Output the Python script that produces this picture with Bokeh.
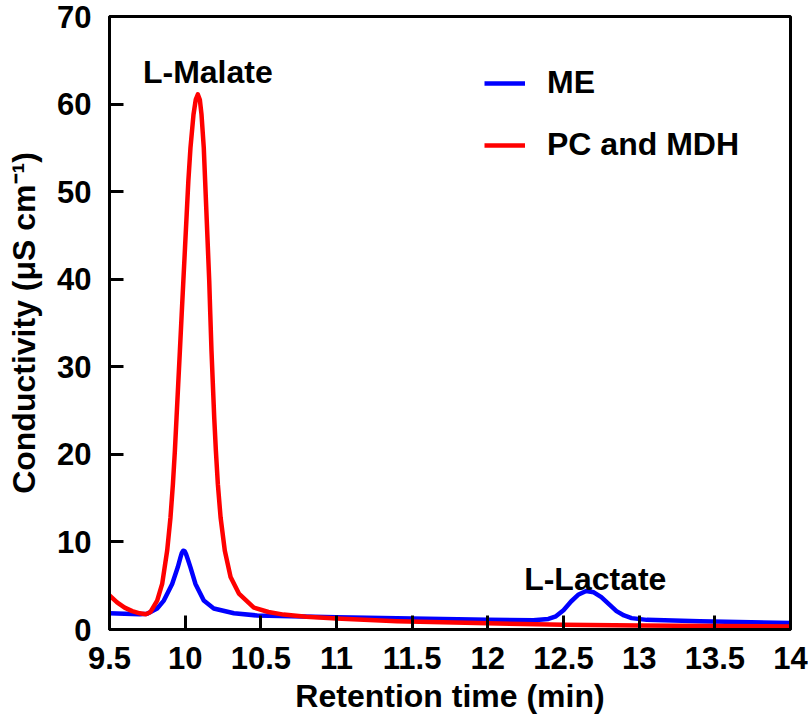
from bokeh.plotting import figure
from bokeh.models import Range1d, FixedTicker, Legend, LegendItem, Label
from bokeh.embed import file_html
from bokeh.resources import INLINE

# ---- data ----
me_x = [9.50, 9.60, 9.70, 9.749, 9.815, 9.859, 9.914, 9.951, 9.970, 9.978, 9.987, 9.996,
        10.005, 10.018, 10.035, 10.068, 10.123, 10.189, 10.322, 10.476, 10.70, 11.00,
        11.50, 12.00, 12.30, 12.40, 12.45, 12.50, 12.55, 12.60, 12.65, 12.70, 12.75,
        12.80, 12.85, 12.90, 12.95, 13.05, 13.40, 14.00]
me_y = [1.85, 1.8, 1.75, 1.8, 2.4, 3.3, 5.2, 7.1, 8.3, 8.75, 9.0, 8.95,
        8.65, 8.0, 7.1, 5.2, 3.3, 2.4, 1.85, 1.6, 1.5, 1.4,
        1.25, 1.1, 1.05, 1.2, 1.5, 2.2, 3.2, 4.0, 4.4, 4.25, 3.7,
        2.9, 2.1, 1.6, 1.3, 1.1, 0.95, 0.75]

pc_x = [9.50, 9.55, 9.60, 9.65, 9.70, 9.74, 9.771, 9.815, 9.848, 9.881, 9.903, 9.919,
        9.932, 9.943, 9.954, 9.965, 9.977, 9.988, 9.999, 10.010, 10.021, 10.035, 10.055,
        10.070, 10.084, 10.097, 10.108, 10.123, 10.132, 10.141, 10.150, 10.159, 10.166,
        10.174, 10.183, 10.192, 10.203, 10.216, 10.234, 10.262, 10.30, 10.355, 10.454,
        10.55, 10.65, 10.80, 11.00, 11.40, 12.00, 12.50, 13.00, 13.50, 14.00]
pc_y = [3.9, 3.1, 2.5, 2.1, 1.85, 1.75, 2.0, 3.3, 5.2, 9.0, 12.8, 16.6,
        20.4, 24.2, 28.0, 31.8, 36.0, 39.8, 43.6, 47.4, 51.2, 55.0, 58.8,
        60.5, 61.1, 60.5, 58.8, 55.0, 51.2, 47.4, 43.6, 39.8, 36.0,
        31.8, 28.0, 24.2, 20.4, 16.6, 12.8, 9.0, 6.0, 4.1, 2.5,
        2.0, 1.7, 1.45, 1.25, 0.95, 0.7, 0.55, 0.45, 0.4, 0.35]

series_names = ["ME", "PC and MDH"]
x_ticks = [9.5, 10, 10.5, 11, 11.5, 12, 12.5, 13, 13.5, 14]
x_tick_labels = ["9.5", "10", "10.5", "11", "11.5", "12", "12.5", "13", "13.5", "14"]
y_ticks = [0, 10, 20, 30, 40, 50, 60, 70]
y_tick_labels = ["0", "10", "20", "30", "40", "50", "60", "70"]
peak_labels = ["L-Malate", "L-Lactate"]
peak_label_x = [10.15, 12.71]
peak_label_y = [63.7, 5.8]

FONT = "Liberation Sans"

p = figure(width=808, height=727, output_backend="svg", toolbar_location=None,
           x_range=Range1d(9.5, 14), y_range=Range1d(0, 70),
           min_border_left=109, min_border_right=18, min_border_top=16, min_border_bottom=98)
p.xgrid.visible = False
p.ygrid.visible = False
p.background_fill_color = "white"
p.border_fill_color = "white"
p.outline_line_color = "black"
p.outline_line_width = 3

for ax in (p.xaxis[0], p.yaxis[0]):
    ax.axis_line_width = 3
    ax.axis_line_color = "black"
    ax.major_tick_in = 14
    ax.major_tick_out = 0
    ax.major_tick_line_width = 3
    ax.minor_tick_line_color = None
    ax.major_label_text_font = FONT
    ax.major_label_text_font_style = "bold"
    ax.major_label_text_font_size = "31px"
    ax.major_label_text_color = "black"
    ax.axis_label_text_font = FONT
    ax.axis_label_text_font_style = "bold"
    ax.axis_label_text_font_size = "32px"
    ax.axis_label_text_color = "black"

p.xaxis.ticker = FixedTicker(ticks=x_ticks)
p.xaxis.major_label_overrides = {t: s for t, s in zip(x_ticks, x_tick_labels)}
p.yaxis.ticker = FixedTicker(ticks=y_ticks)
p.yaxis.major_label_overrides = {t: s for t, s in zip(y_ticks, y_tick_labels)}
p.xaxis.axis_label = "Retention time (min)"
p.yaxis.axis_label = "Conductivity (\u03bcS cm\u207b\u00b9)"
p.xaxis.major_label_standoff = 17
p.yaxis.major_label_standoff = 18
p.xaxis.axis_label_standoff = 6
p.yaxis.axis_label_standoff = 12

r_me = p.line(me_x, me_y, line_color="#0000FF", line_width=4.5, line_join="round")
r_pc = p.line(pc_x, pc_y, line_color="#FF0000", line_width=4.5, line_join="round")

legend = Legend(items=[LegendItem(label=series_names[0], renderers=[r_me]),
                       LegendItem(label=series_names[1], renderers=[r_pc])],
                location=(375, 466), padding=0, margin=0, spacing=25,
                glyph_width=41, glyph_height=30, label_height=30, label_standoff=22,
                label_text_font=FONT, label_text_font_style="bold",
                label_text_font_size="32px", label_text_color="black",
                border_line_alpha=0, background_fill_alpha=0)
p.add_layout(legend)

for txt, lx, ly in zip(peak_labels, peak_label_x, peak_label_y):
    p.add_layout(Label(x=lx, y=ly, text=txt, text_align="center", text_baseline="alphabetic",
                       text_font=FONT, text_font_style="bold", text_font_size="32px",
                       text_color="black"))

open("out.html", "w").write(file_html(p, INLINE))
